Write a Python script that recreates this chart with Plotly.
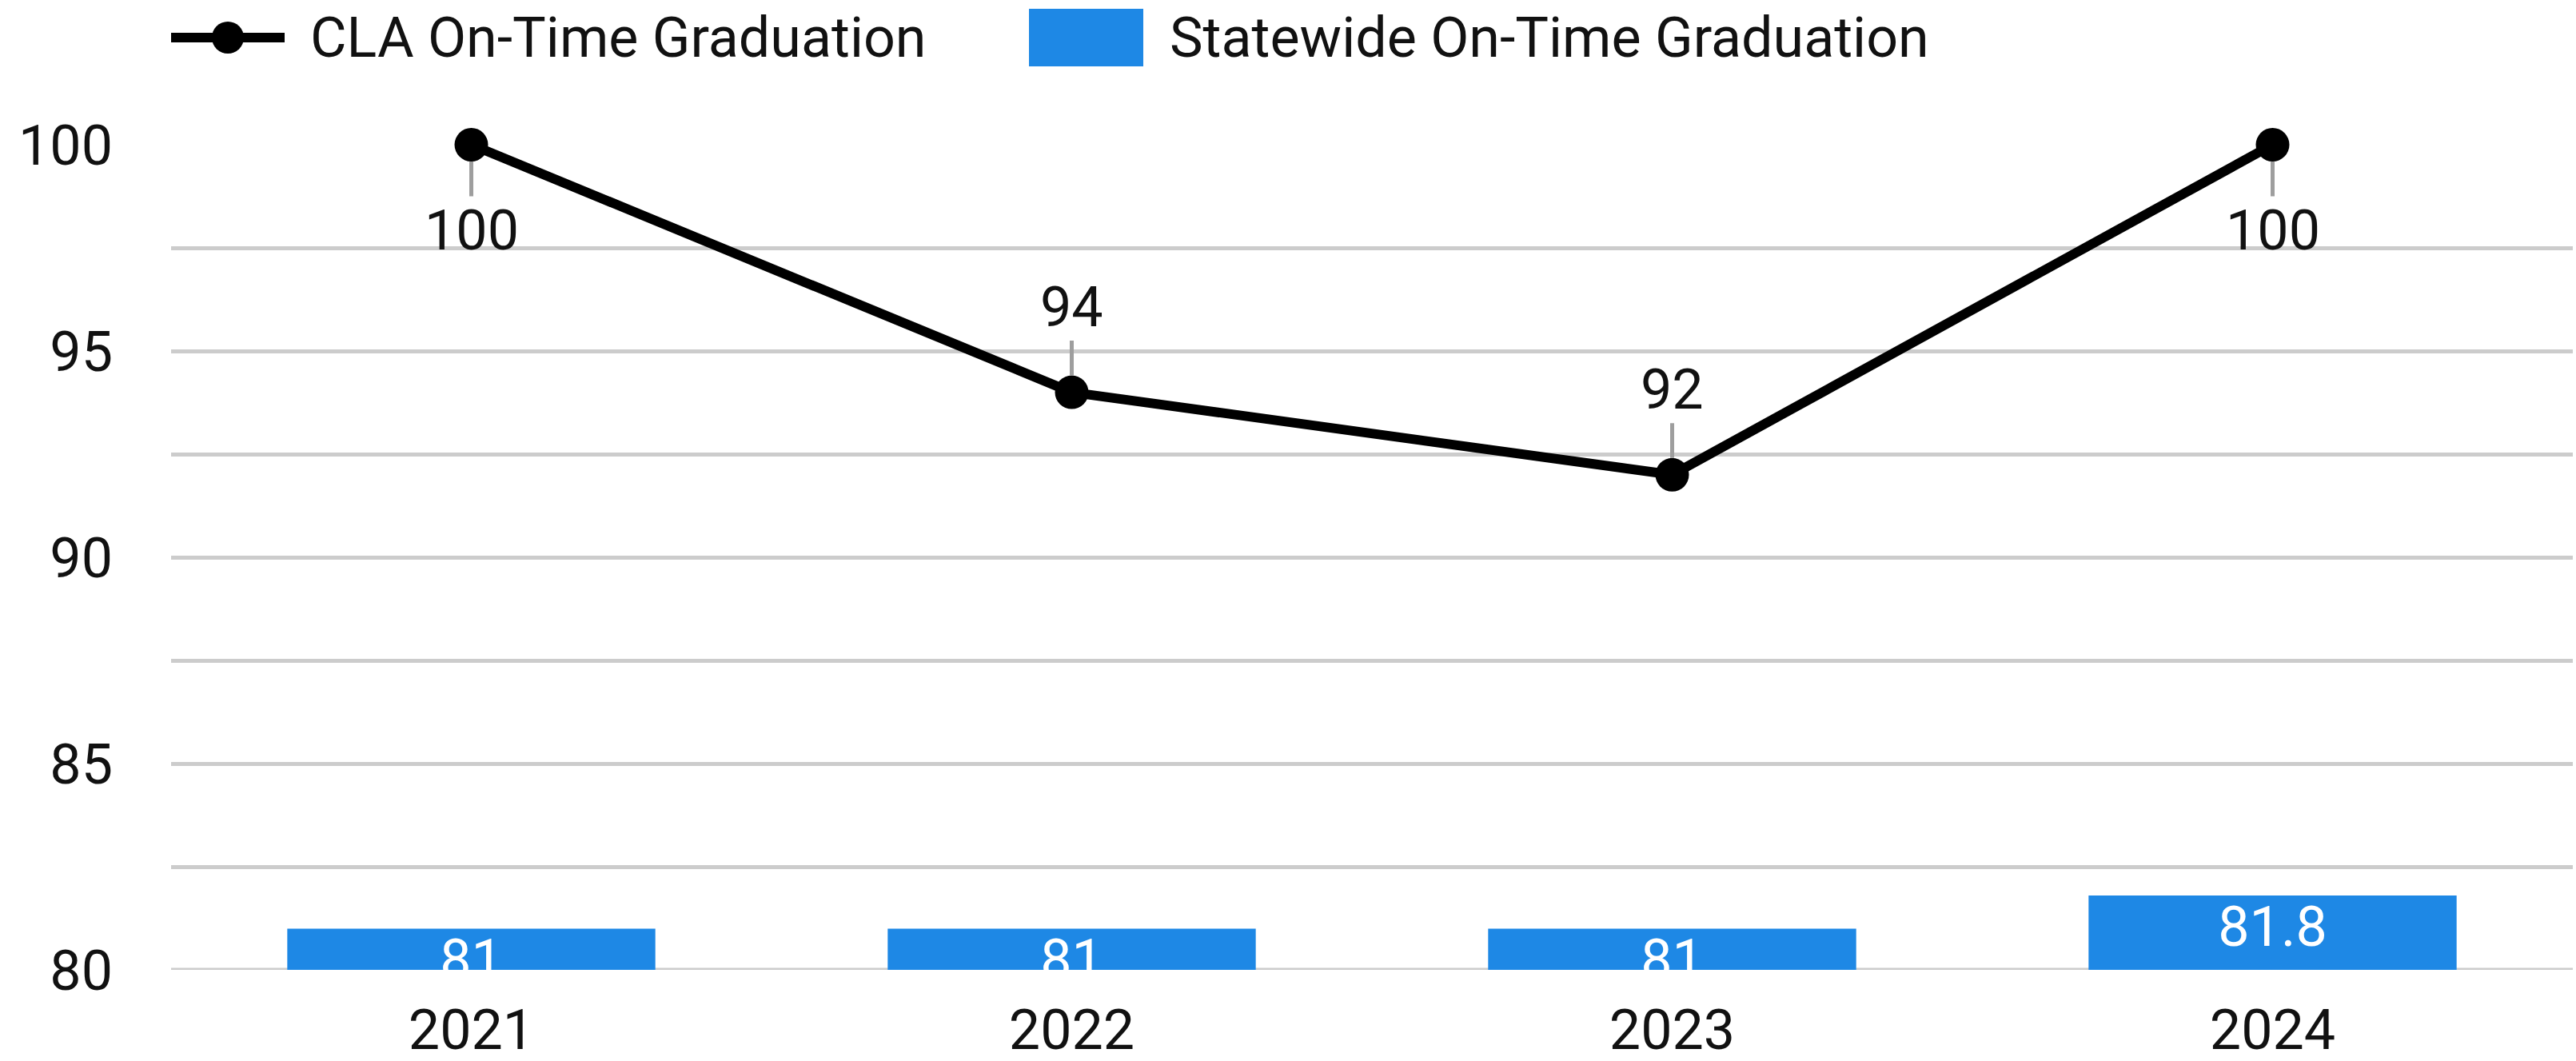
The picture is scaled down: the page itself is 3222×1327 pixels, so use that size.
import plotly.graph_objects as go

# ---- data ----
years = ["2021", "2022", "2023", "2024"]
cla_values = [100, 94, 92, 100]
state_values = [81, 81, 81, 81.8]
cla_label_side = ["below", "above", "above", "below"]
y_tick_vals = [80, 85, 90, 95, 100]
y_tick_text = ["80", "85", "90", "95", "100"]
series_names = ["CLA On-Time Graduation", "Statewide On-Time Graduation"]

# ---- layout constants (pixels) ----
W, H = 3222, 1327
ML, MR, MT, MB = 214, 4, 181, 114
Y_MIN, Y_MAX = 80, 100
PLOT_W = W - ML - MR
PLOT_H = H - MT - MB
PPU = PLOT_H / (Y_MAX - Y_MIN)  # pixels per unit
FONT = "Roboto"
FS = 70
BLUE = "#1E88E5"
GRID = "#cccccc"
TXT = "#111111"


def px_x(p):
    return (p - ML) / PLOT_W


def px_y(p):
    return (H - MB - p) / PLOT_H


fig = go.Figure()

fig.add_trace(go.Bar(
    x=years, y=state_values, base=0, width=0.613,
    marker=dict(color=BLUE, line=dict(width=0)),
    name=series_names[1], showlegend=False, hoverinfo="skip",
))

# bar value labels: inside the bar, top-anchored with padding, clipped at axis
label_offset_units = 45 / PPU
fig.add_trace(go.Scatter(
    x=years, y=[v - label_offset_units for v in state_values],
    mode="text", text=[f"{v:g}" for v in state_values],
    textposition="middle center",
    textfont=dict(family=FONT, size=FS, color="white"),
    cliponaxis=True, showlegend=False, hoverinfo="skip",
))

fig.add_trace(go.Scatter(
    x=years, y=cla_values, mode="lines+markers",
    line=dict(color="black", width=12),
    marker=dict(color="black", size=42),
    name=series_names[0], showlegend=False, cliponaxis=False,
))

annotations = []
for i, (v, side) in enumerate(zip(cla_values, cla_label_side)):
    annotations.append(dict(
        x=i, y=v, xref="x", yref="y", text=f"{v:g}",
        showarrow=True, arrowhead=0, arrowwidth=5, arrowcolor="#9e9e9e",
        ax=0, ay=(107 if side == "below" else -107), standoff=21,
        font=dict(family=FONT, size=FS, color=TXT),
    ))

# ---- manual legend ----
shapes = []
# baseline grid line at 80 (under the bars)
shapes.append(dict(type="line", xref="paper", yref="y", x0=0, x1=1, y0=Y_MIN, y1=Y_MIN,
                   line=dict(color=GRID, width=5), layer="below"))
leg_y = 47
shapes.append(dict(type="line", xref="paper", yref="paper",
                   x0=px_x(214), x1=px_x(356), y0=px_y(leg_y), y1=px_y(leg_y),
                   line=dict(color="black", width=12)))
shapes.append(dict(type="circle", xref="paper", yref="paper",
                   x0=px_x(265), x1=px_x(305), y0=px_y(leg_y + 20), y1=px_y(leg_y - 20),
                   fillcolor="black", line=dict(width=0)))
shapes.append(dict(type="rect", xref="paper", yref="paper",
                   x0=px_x(1287), x1=px_x(1430), y0=px_y(83), y1=px_y(11),
                   fillcolor=BLUE, line=dict(width=0)))
annotations.append(dict(x=px_x(386), y=px_y(leg_y), xref="paper", yref="paper",
                        text=series_names[0], showarrow=False, xanchor="left", yanchor="middle",
                        font=dict(family=FONT, size=FS, color=TXT)))
annotations.append(dict(x=px_x(1461), y=px_y(leg_y), xref="paper", yref="paper",
                        text=series_names[1], showarrow=False, xanchor="left", yanchor="middle",
                        font=dict(family=FONT, size=FS, color=TXT)))

fig.update_layout(
    template="none",
    width=W, height=H,
    margin=dict(l=ML, r=MR, t=MT, b=MB, pad=0, autoexpand=False),
    paper_bgcolor="white", plot_bgcolor="white",
    font=dict(family=FONT, size=FS, color=TXT),
    showlegend=False,
    annotations=annotations,
    shapes=shapes,
    xaxis=dict(
        type="category", range=[-0.5, len(years) - 0.5], autorange=False, automargin=False,
        showgrid=False, zeroline=False, showline=False,
        ticks="", ticklabelstandoff=28,
        tickfont=dict(family=FONT, size=FS, color=TXT),
    ),
    yaxis=dict(
        range=[Y_MIN, Y_MAX], autorange=False, automargin=False,
        tickvals=y_tick_vals, ticktext=y_tick_text,
        showgrid=True, gridcolor=GRID, gridwidth=5,
        minor=dict(dtick=2.5, tick0=80, showgrid=True, gridcolor=GRID, gridwidth=5),
        zeroline=False, showline=False, ticks="", ticklabelstandoff=72,
        tickfont=dict(family=FONT, size=FS, color=TXT),
    ),
)

fig.write_html("out.html")
